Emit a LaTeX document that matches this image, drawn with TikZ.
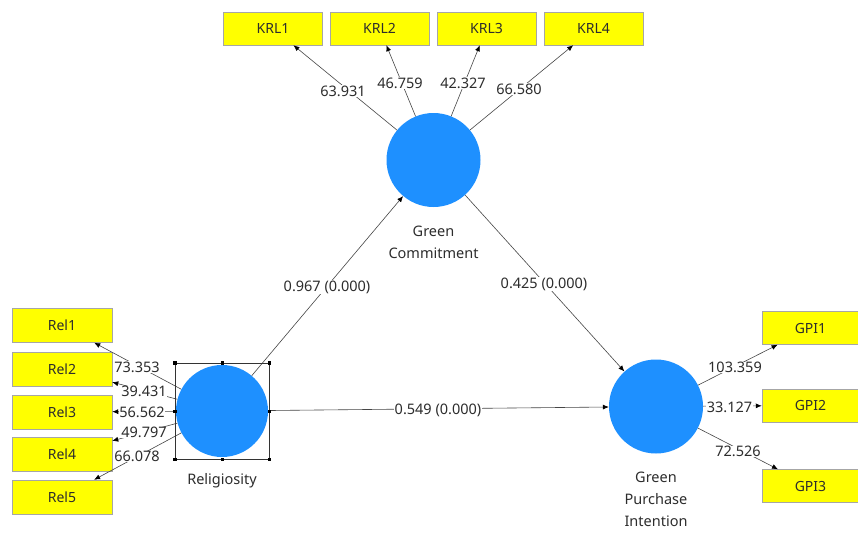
\documentclass[tikz,border=0pt]{standalone}
\usepackage{fontspec}
\setmainfont{Noto Sans}
\usetikzlibrary{arrows.meta}
\definecolor{lvblue}{RGB}{30,144,255}
\definecolor{indyel}{RGB}{255,255,0}
\definecolor{txt}{RGB}{45,45,45}
\definecolor{ln}{RGB}{70,70,70}
\tikzset{
  ind/.style={draw=black!35, line width=0.5pt, fill=indyel, text=txt, inner sep=0pt, font=\fontsize{14}{16}\selectfont},
  lv/.style={circle, fill=lvblue, inner sep=0pt, minimum size=#1},
  lvlab/.style={align=center, text=txt, font=\fontsize{14.5}{22}\selectfont},
  arr/.style={draw=ln, line width=0.6pt, -{Latex[length=6pt,width=5pt,color=black]}},
  lab/.style={fill=white, text=txt, inner sep=0.6pt, font=\fontsize{14.5}{16}\selectfont},
  handle/.style={fill=black, inner sep=0pt, minimum size=3.5pt},
}
\begin{document}
\begin{tikzpicture}[x=1pt,y=-1pt]
\useasboundingbox[fill=white] (0,0) rectangle (858,532);
% latent variables
\node[lv=94pt] (gc) at (433.5,160) {};
\node[lv=92pt] (rel) at (222,411) {};
\node[lv=94pt] (gpi) at (656,406.5) {};
\node[lvlab] (gclab) at (433.5,242) {Green\\Commitment};
\node[lvlab] (rellab) at (222,481) {Religiosity};
\node[lvlab] (gpilab) at (656,499) {Green\\Purchase\\Intention};
% indicators
\node[ind, minimum width=99pt, minimum height=33pt] (krl1) at (273,28.5) {KRL1};
\node[ind, minimum width=99pt, minimum height=33pt] (krl2) at (379.5,28.5) {KRL2};
\node[ind, minimum width=99pt, minimum height=33pt] (krl3) at (486.5,28.5) {KRL3};
\node[ind, minimum width=99pt, minimum height=33pt] (krl4) at (593.5,28.5) {KRL4};
\node[ind, minimum width=100pt, minimum height=34pt] (rel1) at (62,325.5) {Rel1};
\node[ind, minimum width=100pt, minimum height=34pt] (rel2) at (62,369) {Rel2};
\node[ind, minimum width=100pt, minimum height=34pt] (rel3) at (62,412) {Rel3};
\node[ind, minimum width=100pt, minimum height=34pt] (rel4) at (62,454.5) {Rel4};
\node[ind, minimum width=100pt, minimum height=34pt] (rel5) at (62,497) {Rel5};
\node[ind, minimum width=97pt, minimum height=33pt] (gpi1) at (810.5,328) {GPI1};
\node[ind, minimum width=97pt, minimum height=33pt] (gpi2) at (810.5,405.5) {GPI2};
\node[ind, minimum width=97pt, minimum height=33pt] (gpi3) at (810.5,486) {GPI3};
% outer loadings
\foreach \t in {krl1,krl2,krl3,krl4} \draw[arr] (gc) -- (\t);
\foreach \t in {rel1,rel2,rel3,rel4,rel5} \draw[arr] (rel) -- (\t);
\foreach \t in {gpi1,gpi2,gpi3} \draw[arr] (gpi) -- (\t);
% structural paths
\draw[arr] (rel) -- (gc);
\draw[arr] (gc) -- (gpi);
\draw[arr] (rel) -- (gpi);
% loading labels
\node[lab] (l1) at (343,91) {63.931};
\node[lab] (l2) at (400,83) {46.759};
\node[lab] (l3) at (463,83) {42.327};
\node[lab] (l4) at (519,89) {66.580};
\node[lab] (r1) at (137,367) {73.353};
\node[lab] (r2) at (144,391.5) {39.431};
\node[lab] (r3) at (142,412.5) {56.562};
\node[lab] (r4) at (144,432.5) {49.797};
\node[lab] (r5) at (137,456.5) {66.078};
\node[lab] (g1) at (735,367.5) {103.359};
\node[lab] (g2) at (729.5,407) {33.127};
\node[lab] (g3) at (738,451.5) {72.526};
\node[lab] (p1) at (327,287) {0.967 (0.000)};
\node[lab] (p2) at (544,284) {0.425 (0.000)};
\node[lab] (p3) at (438,410.5) {0.549 (0.000)};
% selection frame around Religiosity
\draw[black!80, line width=0.6pt] (175,363) rectangle (269.5,459.5);
\foreach \x/\y in {175/363,222.25/363,269.5/363,175/411.25,269.5/411.25,175/459.5,222.25/459.5,269.5/459.5}
  \node[handle] at (\x,\y) {};
\end{tikzpicture}
\end{document}
